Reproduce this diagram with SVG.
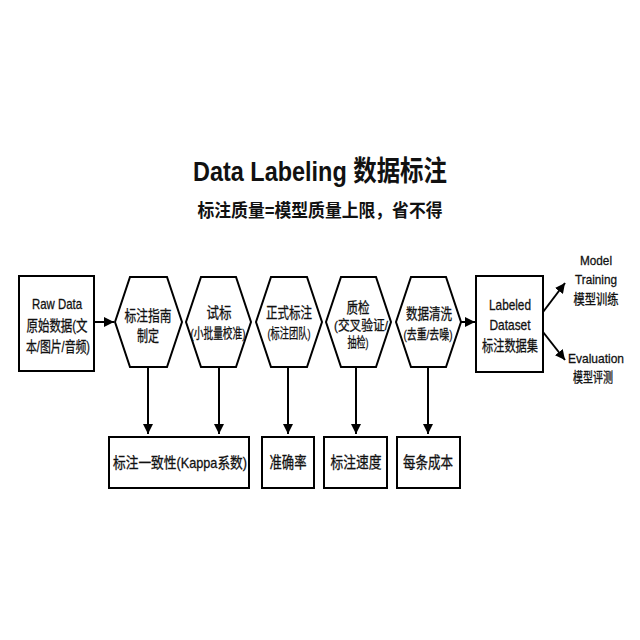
<svg xmlns="http://www.w3.org/2000/svg" width="640" height="640" viewBox="0 0 640 640">
<defs>
<marker id="ah" viewBox="0 0 10 10" refX="10" refY="5" markerWidth="5" markerHeight="5" orient="auto" markerUnits="strokeWidth">
<path d="M0,0 L10,5 L0,10 z" fill="#000"/>
</marker>
<style>
text{font-family:"Liberation Sans","Noto Sans CJK SC",sans-serif;fill:#111;text-anchor:middle;stroke:#111;stroke-width:0.3}
.t{font-size:28px;font-weight:bold;stroke-width:0}
.st{font-size:18px;font-weight:bold;stroke-width:0}
.n{font-size:15px}
.s{font-size:13.5px}
.b{font-size:16px}
.bk{font-size:14.5px}
.box{fill:#fff;stroke:#000;stroke-width:2}
.ln{stroke:#000;stroke-width:2;fill:none;marker-end:url(#ah)}
</style>
</defs>
<rect width="640" height="640" fill="#fff"/>
<g id="title">
<text class="t" x="320" y="181" textLength="254" lengthAdjust="spacingAndGlyphs">Data Labeling 数据标注</text>
<text class="st" x="320" y="217" textLength="245" lengthAdjust="spacingAndGlyphs">标注质量=模型质量上限，省不得</text>
</g>
<g id="connectors">
<line class="ln" x1="94" y1="322" x2="114" y2="322"/>
<line class="ln" x1="461" y1="322" x2="475" y2="322"/>
<line class="ln" x1="543" y1="312" x2="565" y2="283"/>
<line class="ln" x1="543" y1="332" x2="565" y2="360"/>
<line class="ln" x1="148" y1="367" x2="148" y2="434"/>
<line class="ln" x1="219" y1="367" x2="219" y2="434"/>
<line class="ln" x1="288" y1="367" x2="288" y2="434"/>
<line class="ln" x1="356" y1="367" x2="356" y2="434"/>
<line class="ln" x1="428" y1="367" x2="428" y2="434"/>
</g>
<g id="raw">
<rect class="box" x="19" y="276" width="75" height="95"/>
<text class="n" x="57" y="309" textLength="50" lengthAdjust="spacingAndGlyphs">Raw Data</text>
<text class="n" x="57" y="331" textLength="61" lengthAdjust="spacingAndGlyphs">原始数据(文</text>
<text class="n" x="58" y="352" textLength="64" lengthAdjust="spacingAndGlyphs">本/图片/音频)</text>
</g>
<g id="h1">
<polygon class="box" points="115,322 130,277 167,277 182,322 167,367 130,367"/>
<text class="n" x="148" y="321" textLength="47" lengthAdjust="spacingAndGlyphs">标注指南</text>
<text class="n" x="148" y="341" textLength="22" lengthAdjust="spacingAndGlyphs">制定</text>
</g>
<g id="h2">
<polygon class="box" points="186,322 201,277 236,277 251,322 236,367 201,367"/>
<text class="n" x="219" y="318" textLength="25" lengthAdjust="spacingAndGlyphs">试标</text>
<text class="s" x="218" y="338" textLength="55" lengthAdjust="spacingAndGlyphs">(小批量校准)</text>
</g>
<g id="h3">
<polygon class="box" points="256,322 271,277 307,277 322,322 307,367 271,367"/>
<text class="n" x="289" y="318" textLength="46" lengthAdjust="spacingAndGlyphs">正式标注</text>
<text class="s" x="289" y="338" textLength="43" lengthAdjust="spacingAndGlyphs">(标注团队)</text>
</g>
<g id="h4">
<polygon class="box" points="326,322 341,277 376,277 391,322 376,367 341,367"/>
<text class="n" x="358" y="313" textLength="23" lengthAdjust="spacingAndGlyphs">质检</text>
<text class="s" x="361" y="330" textLength="54" lengthAdjust="spacingAndGlyphs">(交叉验证/</text>
<text class="s" x="358" y="347" textLength="21" lengthAdjust="spacingAndGlyphs">抽检)</text>
</g>
<g id="h5">
<polygon class="box" points="396,322 411,277 446,277 461,322 446,367 411,367"/>
<text class="n" x="429" y="319" textLength="46" lengthAdjust="spacingAndGlyphs">数据清洗</text>
<text class="s" x="428" y="339" textLength="49" lengthAdjust="spacingAndGlyphs">(去重/去噪)</text>
</g>
<g id="labeled">
<rect class="box" x="476" y="276" width="67" height="96"/>
<text class="n" x="510" y="310" textLength="42" lengthAdjust="spacingAndGlyphs">Labeled</text>
<text class="n" x="510" y="330" textLength="41" lengthAdjust="spacingAndGlyphs">Dataset</text>
<text class="n" x="510" y="351" textLength="56" lengthAdjust="spacingAndGlyphs">标注数据集</text>
</g>
<g id="training">
<text class="s" x="596" y="265" textLength="32" lengthAdjust="spacingAndGlyphs">Model</text>
<text class="s" x="596" y="284" textLength="42" lengthAdjust="spacingAndGlyphs">Training</text>
<text class="s" x="596" y="304" textLength="45" lengthAdjust="spacingAndGlyphs">模型训练</text>
</g>
<g id="evaluation">
<text class="s" x="596" y="363" textLength="56" lengthAdjust="spacingAndGlyphs">Evaluation</text>
<text class="s" x="593" y="382" textLength="40" lengthAdjust="spacingAndGlyphs">模型评测</text>
</g>
<g id="m1">
<rect class="box" x="109" y="437" width="140" height="51"/>
<text class="bk" x="180" y="468" textLength="134" lengthAdjust="spacingAndGlyphs">标注一致性(Kappa系数)</text>
</g>
<g id="m2">
<rect class="box" x="262" y="437" width="52" height="51"/>
<text class="b" x="288" y="468" textLength="37" lengthAdjust="spacingAndGlyphs">准确率</text>
</g>
<g id="m3">
<rect class="box" x="324" y="437" width="63" height="51"/>
<text class="b" x="356" y="468" textLength="51" lengthAdjust="spacingAndGlyphs">标注速度</text>
</g>
<g id="m4">
<rect class="box" x="397" y="437" width="63" height="51"/>
<text class="b" x="428" y="468" textLength="50" lengthAdjust="spacingAndGlyphs">每条成本</text>
</g>
</svg>
